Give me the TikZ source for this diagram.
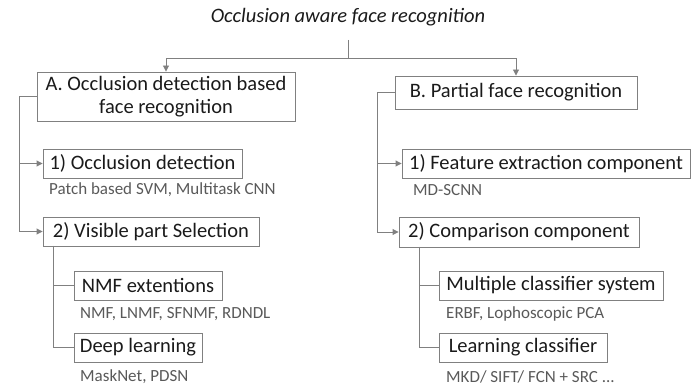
\documentclass[tikz,border=0pt]{standalone}
\usepackage{fontspec}
\setmainfont{Carlito}
\usetikzlibrary{arrows.meta}
\definecolor{lncol}{HTML}{808080}
\definecolor{txcol}{HTML}{1A1A1A}
\definecolor{subcol}{HTML}{595959}
\tikzset{
  box/.style={draw=lncol, line width=0.9pt, text=txcol, inner sep=0pt, font=\fontsize{20.5}{23}\selectfont, align=center},
  subtxt/.style={anchor=west, inner sep=0pt, text=subcol, font=\fontsize{17}{19}\selectfont},
  ln/.style={draw=lncol, line width=0.9pt},
  arr/.style={ln, -{Triangle[width=6pt,length=6pt]}}
}
\begin{document}
\begin{tikzpicture}[x=1pt,y=-1pt]
\useasboundingbox (0,0) rectangle (699,387);
\node[inner sep=0pt, text=txcol, font=\fontsize{20.5}{23}\selectfont\itshape] (title) at (348,17) {Occlusion aware face recognition};
\node[box, minimum width=258pt, minimum height=49pt] (A) at (166,96.5) {A. Occlusion detection based\\face recognition};
\node[box, minimum width=242pt, minimum height=33pt] (B) at (516,92.5) {B. Partial face recognition};
\node[box, minimum width=199pt, minimum height=29pt] (A1) at (142.5,163.5) {1) Occlusion detection};
\node[box, minimum width=216pt, minimum height=29pt] (A2) at (151,231.5) {2) Visible part Selection};
\node[box, minimum width=148pt, minimum height=29pt] (A21) at (148,285.5) {NMF extentions};
\node[box, minimum width=128pt, minimum height=29pt] (A22) at (138,347.5) {Deep learning};
\node[box, minimum width=288pt, minimum height=29pt] (B1) at (546,163.5) {1) Feature extraction component};
\node[box, minimum width=240pt, minimum height=30pt] (B2) at (519,232) {2) Comparison component};
\node[box, minimum width=224pt, minimum height=29pt] (B21) at (551,285.5) {Multiple classifier system};
\node[box, minimum width=168pt, minimum height=29pt] (B22) at (523,347.5) {Learning classifier};
\node[subtxt] (sA1) at (49,190) {Patch based SVM, Multitask CNN};
\node[subtxt] (sA21) at (80,314) {NMF, LNMF, SFNMF, RDNDL};
\node[subtxt] (sA22) at (80,377) {MaskNet, PDSN};
\node[subtxt] (sB1) at (413,190) {MD-SCNN};
\node[subtxt] (sB21) at (446,314) {ERBF, Lophoscopic PCA};
\node[subtxt] (sB22) at (446,377) {MKD/ SIFT/ FCN + SRC ...};
\coordinate (t0) at (348,40);
\coordinate (tj) at (348,58);
\draw[ln] (t0) -- (tj);
\draw[arr] (tj) -| (A.north);
\draw[arr] (tj) -| (B.north);
\coordinate (aL) at (19,96.5);
\draw[ln] (A.west) -- (aL);
\draw[arr] (aL) |- (A1.west);
\draw[arr] (aL) |- (A2.west);
\coordinate (a2b) at (53,246);
\draw[ln] (a2b) |- (A21.west);
\draw[ln] (a2b) |- (A22.west);
\coordinate (bL) at (377,92.5);
\draw[ln] (B.west) -- (bL);
\draw[arr] (bL) |- (B1.west);
\draw[arr] (bL) |- (B2.west);
\coordinate (b2b) at (419,247);
\draw[ln] (b2b) |- (B21.west);
\draw[ln] (b2b) |- (B22.west);
\end{tikzpicture}
\end{document}
